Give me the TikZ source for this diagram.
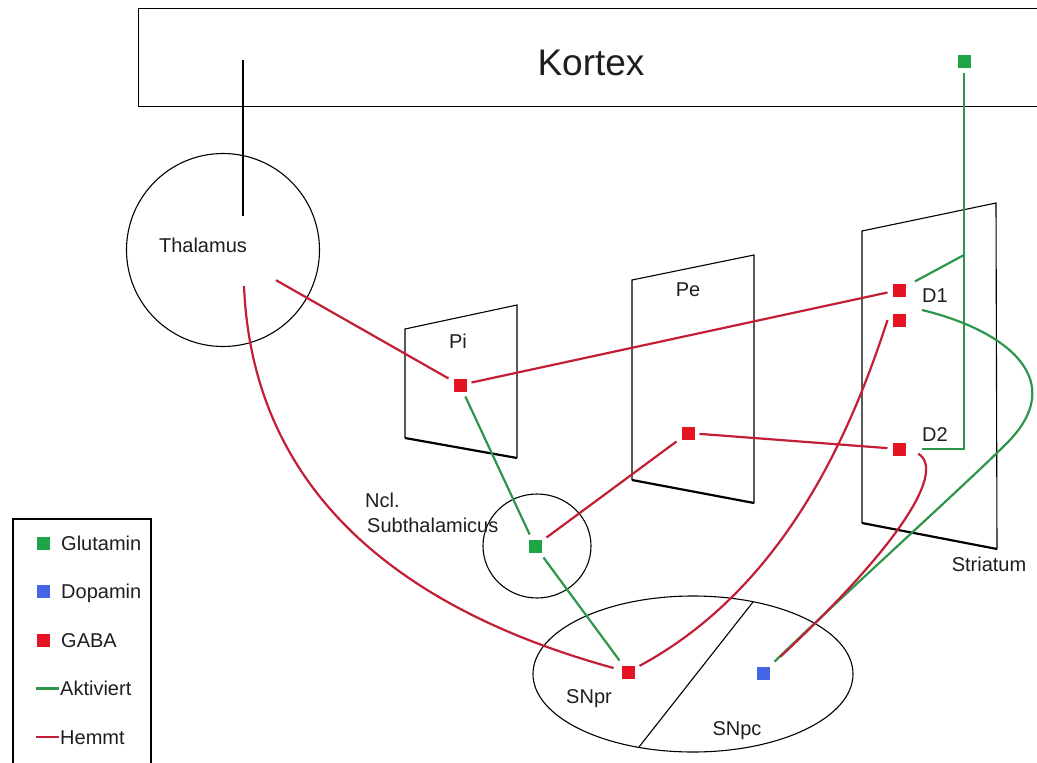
\documentclass[tikz,border=0pt]{standalone}
\usepackage{fontspec}
\setmainfont{Liberation Sans}
\usetikzlibrary{shapes.geometric}

\definecolor{glusq}{RGB}{30,165,70}
\definecolor{gluline}{RGB}{45,150,75}
\definecolor{gabasq}{RGB}{230,20,35}
\definecolor{gabaline}{RGB}{195,30,55}
\definecolor{dopasq}{RGB}{70,100,230}
\definecolor{ink}{RGB}{30,30,30}

\begin{document}
\begin{tikzpicture}[x=1pt,y=-1pt,
  sq/.style={minimum size=13pt, inner sep=0pt, outer sep=5pt},
  glu/.style={sq, fill=glusq},
  gaba/.style={sq, fill=gabasq},
  dopa/.style={sq, fill=dopasq},
  act/.style={draw=gluline, line width=2.2pt},
  inh/.style={draw=gabaline, line width=2.2pt},
  outline/.style={draw=black, line width=1.1pt},
  plane/.style={draw=black, line width=1.1pt},
  planebase/.style={draw=black, line width=2.2pt},
  lbl/.style={font=\fontsize{20}{24}\selectfont, text=ink, inner sep=0pt},
  legtext/.style={font=\fontsize{20}{24}\selectfont, text=ink, inner sep=0pt, anchor=base west}]

\useasboundingbox (0,0) rectangle (1037,763);

% cortex band (runs off the right edge)
\node (kortexbox) [outline, anchor=north west, minimum width=920pt, minimum height=98pt] at (138,8) {};
\node (kortex) [font=\fontsize{37}{40}\selectfont, text=ink, inner sep=0pt] at (591,63) {Kortex};

% thalamus
\node (thal) [circle, outline, minimum size=193pt, inner sep=0pt] at (223,250) {};
\node (thallbl) [lbl] at (203,245) {Thalamus};
\coordinate (kout) at (243,60);
\coordinate (tin) at (243,216);
\draw[black, line width=1.6pt] (kout) -- (tin);

% planes: pallidum internum, pallidum externum, striatum
\draw[plane] (405,438) -- (405,329) -- (517,305) -- (517,458);
\draw[planebase] (405,438) -- (517,458);
\draw[plane] (632,480) -- (632,280) -- (754,255) -- (754,503);
\draw[planebase] (632,480) -- (754,503);
\draw[plane] (862,523) -- (862,231) -- (996,203) -- (997,549);
\draw[planebase] (862,523) -- (997,549);

\node (pilbl) [lbl] at (458,341) {Pi};
\node (pelbl) [lbl] at (688,290) {Pe};
\node (d1lbl) [lbl] at (935,296) {D1};
\node (d2lbl) [lbl] at (935,435) {D2};
\node (strlbl) [lbl] at (989,564) {Striatum};

% subthalamic nucleus
\node (stncirc) [ellipse, outline, minimum width=108pt, minimum height=104pt, inner sep=0pt] at (537,546) {};
\node (ncl) [lbl, anchor=base west] at (365,507) {Ncl.};
\node (subth) [lbl, anchor=base west] at (367,532) {Subthalamicus};

% substantia nigra
\node (sn) [ellipse, outline, minimum width=320pt, minimum height=156pt, inner sep=0pt] at (693,674) {};
\coordinate (snsplitA) at (753,602);
\coordinate (snsplitB) at (639,747);
\draw[black, line width=1.1pt] (snsplitA) -- (snsplitB);
\node (snprlbl) [lbl, anchor=base] at (589,703) {SNpr};
\node (snpclbl) [lbl, anchor=base] at (737,735) {SNpc};

% transmitter sites
\node (kglu) [glu] at (964,61) {};
\node (pi) [gaba] at (460,385) {};
\node (pe) [gaba] at (688,433) {};
\node (d1a) [gaba] at (899,290) {};
\node (d1b) [gaba] at (899,320) {};
\node (d2) [gaba] at (899,449) {};
\node (stn) [glu] at (535,546) {};
\node (snpr) [gaba] at (628,672) {};
\node (snpc) [dopa] at (763,673) {};

% excitatory pathways
\coordinate (gbranch) at (964,255);
\draw[act] (kglu) |- (d2) [shorten >=11pt];
\draw[act, shorten >=5pt] (gbranch) -- (d1a);
\draw[act] (pi) -- (stn);
\draw[act] (stn) -- (snpr);
\draw[act] ([shift={(11.5,-10)}]d1b.east)
  .. controls (1005,330) and (1072,380) .. (1005,445)
  .. controls (965,485) and (830,607) .. (snpc);

% inhibitory pathways
\draw[inh] (pi) -- (d1a);
\draw[inh, shorten <=61pt] (thal.center) -- (pi);
\coordinate (thout) at (244,286);
\draw[inh, shorten >=3pt] (thout) .. controls (252,480) and (385,605) .. (snpr);
\draw[inh] (pe) -- (d2);
\draw[inh] (pe) -- (stn);
\draw[inh] (d1b.west) .. controls (855,420) and (790,585) .. (snpr);
\draw[inh, shorten <=9pt, shorten >=8pt] (d2.east) .. controls (945,470) and (905,540) .. (snpc);

% legend
\node (legbox) [draw=black, line width=2.2pt, anchor=north west, minimum width=138pt, minimum height=260pt] at (12,518) {};
\node (lglu) [glu, outer sep=0pt] at (43,543) {};
\node (lglut) [legtext] at (61,550) {Glutamin};
\node (ldopa) [dopa, outer sep=0pt] at (43,591.5) {};
\node (ldopat) [legtext] at (61,598.5) {Dopamin};
\node (lgaba) [gaba, outer sep=0pt] at (43,640) {};
\node (lgabat) [legtext] at (61,647) {GABA};
\coordinate (lactA) at (36,688.5);
\coordinate (lactB) at (59,688.5);
\draw[act] (lactA) -- (lactB);
\node (lactt) [legtext] at (60,695.5) {Aktiviert};
\coordinate (linhA) at (36,737);
\coordinate (linhB) at (59,737);
\draw[inh] (linhA) -- (linhB);
\node (linht) [legtext] at (60,744) {Hemmt};
\end{tikzpicture}
\end{document}
